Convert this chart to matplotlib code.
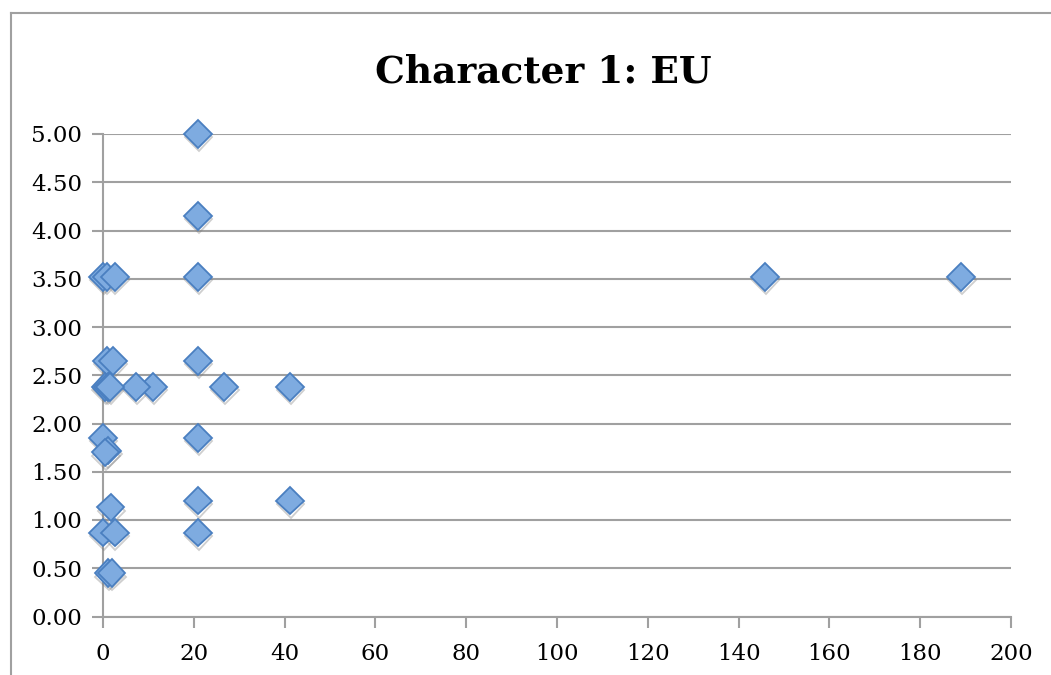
import matplotlib
matplotlib.use("Agg")
import matplotlib.pyplot as plt
import matplotlib.patheffects as pe
from matplotlib.lines import Line2D

# EU values for Character 1
x_vals = [20.9, 20.9, 20.9, 145.8, 189.0, 20.9, 26.7, 41.2, 11.0, 7.3,
          20.9, 20.9, 41.2, 20.9,
          0.0, 0.8, 2.6, 0.8, 2.2, 0.5, 1.0, 1.5, 0.0, 1.0, 0.5, 1.7,
          0.0, 2.6, 1.2, 1.9]
y_vals = [5.00, 4.15, 3.52, 3.52, 3.52, 2.65, 2.38, 2.38, 2.38, 2.38,
          1.85, 1.20, 1.20, 0.87,
          3.52, 3.52, 3.52, 2.65, 2.65, 2.38, 2.38, 2.38, 1.85, 1.72, 1.70, 1.13,
          0.87, 0.87, 0.45, 0.45]

x_ticks = list(range(0, 201, 20))
y_ticks = [0.0, 0.5, 1.0, 1.5, 2.0, 2.5, 3.0, 3.5, 4.0, 4.5, 5.0]
title = "Character 1: EU"

W, H = 1051, 675
fig = plt.figure(figsize=(W / 100, H / 100), dpi=100)
ax = fig.add_axes([103 / W, 1 - 616.5 / H, (1011 - 103) / W, (616.5 - 134) / H])

grid_col = "#a0a0a0"
ax.set_xlim(0, 200)
ax.set_ylim(0, 5)
ax.set_xticks(x_ticks)
ax.set_yticks(y_ticks)
ax.set_xticklabels([str(v) for v in x_ticks])
ax.set_yticklabels([f"{v:.2f}" for v in y_ticks])

ax.yaxis.grid(True, color=grid_col, linewidth=1.5)
ax.set_axisbelow(True)
for side in ("top", "right"):
    ax.spines[side].set_visible(False)
for side in ("left", "bottom"):
    ax.spines[side].set_color(grid_col)
    ax.spines[side].set_linewidth(1.5)
ax.tick_params(axis="both", direction="out", length=8, width=1.5, color=grid_col,
               labelsize=16.5)
ax.tick_params(axis="x", pad=11)
ax.tick_params(axis="y", pad=7)
for lab in ax.get_xticklabels() + ax.get_yticklabels():
    lab.set_fontfamily("DejaVu Serif")

ax.plot(x_vals, y_vals, linestyle="none", marker="D", markersize=14,
        markerfacecolor="#7eabe0", markeredgecolor="#4a7fc0", markeredgewidth=1.3,
        clip_on=False, zorder=3,
        path_effects=[pe.SimpleLineShadow(offset=(0.5, -2.5), shadow_color="#777777", alpha=0.35),
                      pe.Normal()])

fig.text(543 / W, 1 - 72 / H, title, ha="center", va="center",
         fontsize=27, fontweight="bold", family="DejaVu Serif")

# chart-area frame
fx, fy = 11 / W, 1 - 12.5 / H
fig.add_artist(Line2D([fx, fx], [0, fy], color=grid_col, linewidth=1.5))
fig.add_artist(Line2D([fx, 1], [fy, fy], color=grid_col, linewidth=1.5))

fig.savefig("out.png", dpi=100)
